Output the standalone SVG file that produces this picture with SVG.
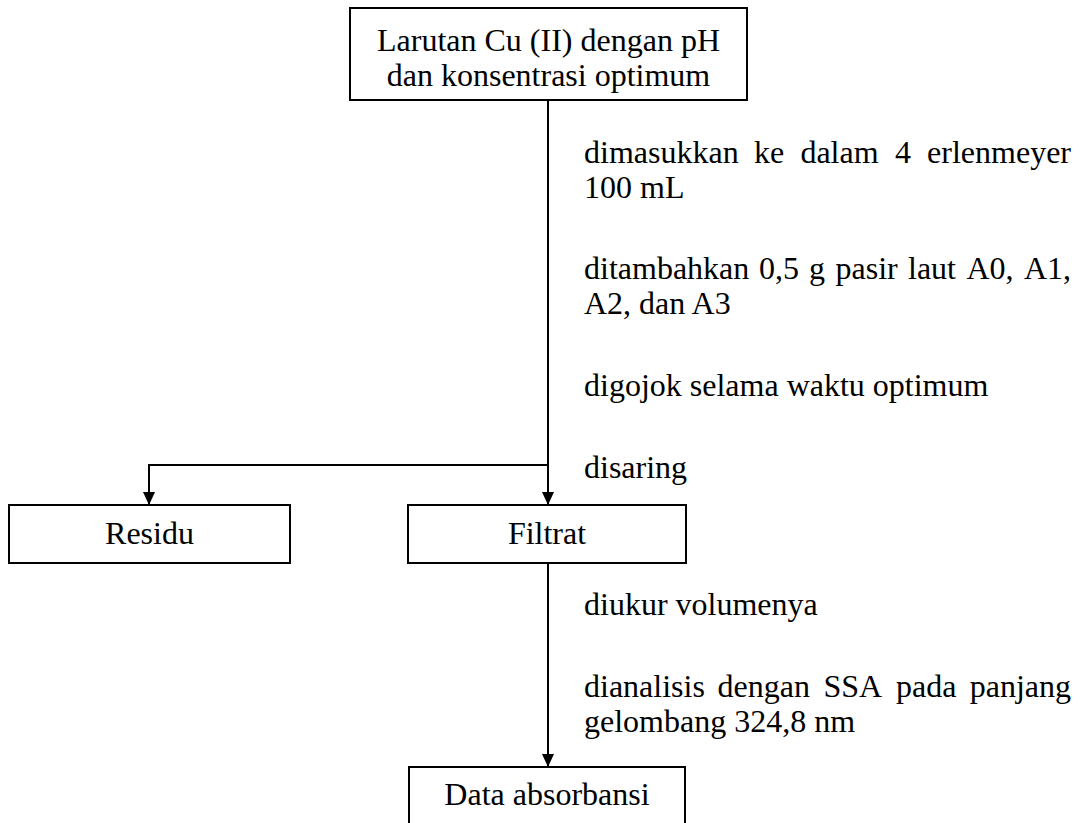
<svg xmlns="http://www.w3.org/2000/svg" width="1085" height="823" viewBox="0 0 1085 823">
<style>
.box{fill:#fff;stroke:#000;stroke-width:2}
.t{font-family:'Liberation Serif','Times New Roman',serif;font-size:32px;fill:#000}
.c{text-anchor:middle}
.e{text-anchor:end}
.ln{fill:none;stroke:#000;stroke-width:2}
</style>
<defs>
<marker id="ah" markerWidth="13" markerHeight="12" refX="13" refY="6" orient="auto" markerUnits="userSpaceOnUse" viewBox="0 0 13 12">
<path d="M0,0 L13,6 L0,12 Z" fill="#000"/>
</marker>
</defs>
<rect width="1085" height="823" fill="#fff"/>
<g id="connectors">
<line class="ln" x1="548" y1="100" x2="548" y2="505" marker-end="url(#ah)"/>
<path class="ln" d="M548,465 H149 V505" marker-end="url(#ah)"/>
<line class="ln" x1="548" y1="563" x2="548" y2="767" marker-end="url(#ah)"/>
</g>
<g id="node-larutan">
<rect class="box" x="350" y="8" width="397" height="92"/>
<text class="t c" x="548.5" y="51">Larutan Cu (II) dengan pH</text>
<text class="t c" x="548.5" y="86">dan konsentrasi optimum</text>
</g>
<g id="node-residu">
<rect class="box" x="9" y="505" width="281" height="58"/>
<text class="t c" x="149.5" y="544">Residu</text>
</g>
<g id="node-filtrat">
<rect class="box" x="408" y="505" width="278" height="58"/>
<text class="t c" x="547" y="544">Filtrat</text>
</g>
<g id="node-data">
<rect class="box" x="409" y="767" width="276" height="70"/>
<text class="t c" x="547" y="805">Data absorbansi</text>
</g>
<g id="labels">
<text class="t" x="584" y="163">dimasukkan</text>
<text class="t" x="754" y="163">ke</text>
<text class="t" x="800.4" y="163">dalam</text>
<text class="t" x="894.9" y="163">4</text>
<text class="t e" x="1071" y="163">erlenmeyer</text>
<text class="t" x="584" y="198">100 mL</text>
<text class="t" x="584" y="279">ditambahkan</text>
<text class="t" x="759" y="279">0,5</text>
<text class="t" x="809" y="279">g</text>
<text class="t" x="835.5" y="279">pasir</text>
<text class="t" x="908" y="279">laut</text>
<text class="t" x="966.5" y="279">A0,</text>
<text class="t e" x="1071" y="279">A1,</text>
<text class="t" x="584" y="314">A2, dan A3</text>
<text class="t" x="584" y="396">digojok selama waktu optimum</text>
<text class="t" x="584" y="478">disaring</text>
<text class="t" x="584" y="615">diukur volumenya</text>
<text class="t" x="584" y="697">dianalisis</text>
<text class="t" x="717.5" y="697">dengan</text>
<text class="t" x="823.5" y="697">SSA</text>
<text class="t" x="896" y="697">pada</text>
<text class="t e" x="1071" y="697">panjang</text>
<text class="t" x="584" y="732">gelombang 324,8 nm</text>
</g>
</svg>
